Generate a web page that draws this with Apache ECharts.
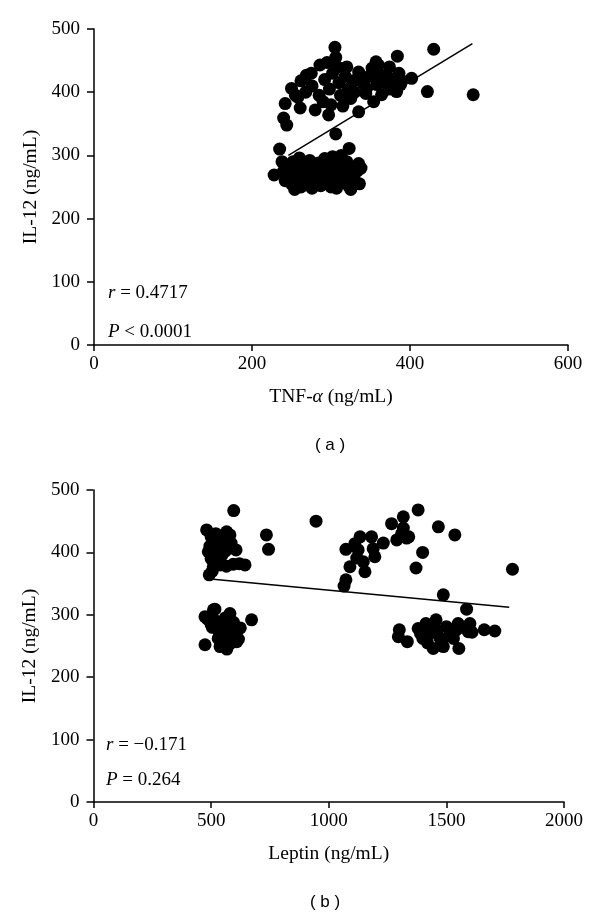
<!DOCTYPE html>
<html>
<head>
<meta charset="utf-8">
<script src="https://cdn.jsdelivr.net/npm/echarts@6/dist/echarts.min.js"></script>
<style>
html,body{margin:0;padding:0;background:#fff;}
#c{width:600px;height:917px;}
</style>
</head>
<body>
<div id="c"></div>
<script>
// ---- Data: panel (a) TNF-α vs IL-12 ----
var aUpper = [[305,471],[430,468],[384,457],[480,396],[422,401],[402,422],[286,443],[357,448],[269,427],[250,406],[242,382],[240,359],[244,348],[306,334],[297,364],[335,369],[335,432],[374,440],[383,401],[354,385],[280,372],[261,375],
  [262,418],[275,430],[258,392],[268,400],[276,410],[285,395],[290,385],[292,420],[298,405],[302,430],[306,455],[308,440],[310,415],[312,395],[315,378],[318,425],[322,405],[325,390],[328,418],[330,400],[340,415],[344,398],[348,425],[352,438],[358,412],[362,428],[364,396],[368,415],[370,425],[376,405],[378,420],[386,430],[388,412],[390,418],[360,443],[345,406],[320,440],[295,447],[300,380],[255,395]];
var aLower = [[323,311],[235,310],[228,269],[335,287],[325,246],[254,246],[307,248],
  [238,290],[240,275],[242,260],[245,282],[248,268],[250,255],[252,290],[256,275],[258,262],[262,250],[264,285],[268,270],[270,258],[273,292],[276,248],[278,278],[281,265],[284,288],[287,252],[290,275],[292,295],[295,262],[298,282],[300,250],[302,298],[305,270],[308,285],[310,258],[313,300],[316,275],[318,262],[320,290],[322,252],[326,270],[328,280],[330,260],[333,275],[336,255],[338,280],[290,262],[270,280],[260,296],[285,275],[300,265],[315,285]];
var aFitLine = [[246,300],[479,477]];

// ---- Data: panel (b) Leptin vs IL-12 ----
var bUpperLeft = [[596,467],[481,436],[566,433],[488,401],[606,404],[644,380],[594,381],[492,364],[516,415],[530,390],[509,377],[735,428],[744,405],[946,450],
  [500,425],[520,430],[540,420],[555,410],[580,428],[495,410],[510,400],[525,405],[545,395],[560,402],[500,390],[520,385],[540,380],[565,378],[620,382],[505,370],[585,415],[550,425]];
var bLowerLeft = [[516,309],[672,292],[474,297],[474,252],[580,302],[609,257],[538,249],[567,245],[510,308],[485,293],[624,279],[616,261],
  [500,285],[520,290],[530,275],[545,285],[555,270],[560,295],[570,280],[575,265],[590,275],[595,288],[600,262],[585,255],[550,258],[530,262],[505,280],[565,285]];
var bMiddle = [[1317,457],[1380,468],[1267,446],[1317,439],[1289,420],[1331,423],[1232,415],[1133,425],[1182,425],[1073,405],[1125,404],[1196,393],[1090,377],[1147,385],[1154,369],[1073,356],[1065,346],[1399,400],[1371,375],[1189,406],[1111,414],[1119,391],[1466,441],[1536,428],[1781,373],[1310,430],[1340,425]];
var bLowerRight = [[1487,332],[1586,309],[1300,276],[1296,265],[1334,257],[1380,278],[1413,286],[1456,292],[1444,246],[1487,249],[1553,246],[1550,286],[1600,286],[1593,273],[1661,276],[1706,274],[1429,270],[1472,263],[1515,270],[1400,262],[1500,281],[1444,281],[1609,272],[1570,280],[1530,262],[1420,255],[1460,275],[1480,258],[1390,270],[1540,275]];
var bFitLine = [[509,357],[1767,312]];

var yTicks = [0,100,200,300,400,500];
var aXTicks = [0,200,400,600];
var bXTicks = [0,500,1000,1500,2000];

var SERIF = '"Liberation Serif","DejaVu Serif",serif';
var SANS = '"Liberation Sans",Arial,sans-serif';
var FS = 19;
var NFS = 19.5;

function plain(v){ return String(v); }

function xAxisCfg(grid, ticks, nameRich) {
  return {
    type:'value', gridIndex:grid, min:ticks[0], max:ticks[ticks.length-1], interval:ticks[1]-ticks[0],
    name: nameRich, nameLocation:'middle', nameGap:42,
    nameTextStyle:{fontFamily:SERIF, fontSize:NFS, color:'#000',
      rich:{n:{fontFamily:SERIF,fontSize:NFS,color:'#000'}, i:{fontFamily:SERIF,fontSize:NFS,color:'#000',fontStyle:'italic'}}},
    axisLine:{show:true, onZero:false, lineStyle:{color:'#000', width:1.5}},
    axisTick:{show:true, inside:false, length:6, lineStyle:{color:'#000', width:1.5}},
    axisLabel:{fontFamily:SERIF, fontSize:FS, color:'#000', margin:10, formatter:plain},
    splitLine:{show:false}
  };
}
function yAxisCfg(grid) {
  return {
    type:'value', gridIndex:grid, min:yTicks[0], max:yTicks[yTicks.length-1], interval:yTicks[1]-yTicks[0],
    name:'IL-12 (ng/mL)', nameLocation:'middle', nameGap:52, nameRotate:90,
    nameTextStyle:{fontFamily:SERIF, fontSize:NFS, color:'#000'},
    axisLine:{show:true, onZero:false, lineStyle:{color:'#000', width:1.5}},
    axisTick:{show:true, inside:false, length:7, lineStyle:{color:'#000', width:1.5}},
    axisLabel:{fontFamily:SERIF, fontSize:FS, color:'#000', margin:14, formatter:plain},
    splitLine:{show:false}
  };
}
function scatter(data, xi, yi) {
  return {type:'scatter', xAxisIndex:xi, yAxisIndex:yi, data:data, symbol:'circle', symbolSize:13,
    itemStyle:{color:'#000', opacity:1}, silent:true, z:3};
}
function fit(data, xi, yi) {
  return {type:'line', xAxisIndex:xi, yAxisIndex:yi, data:data, symbol:'none',
    lineStyle:{color:'#000', width:1.5}, silent:true, z:4};
}
function txt(x, y, text, font, align, rich) {
  return {type:'text', x:x, y:y, silent:true, style:{text:text, fontFamily:font, fontSize:FS, fill:'#000',
    align:align, verticalAlign:'middle', rich:rich||{}}};
}
var it = {i:{fontFamily:SERIF, fontSize:FS, fontStyle:'italic', color:'#000'}, n:{fontFamily:SERIF, fontSize:FS, color:'#000'}};

var chart = echarts.init(document.getElementById('c'), null, {renderer:'canvas'});
chart.setOption({
  animation:false,
  backgroundColor:'#fff',
  grid:[
    {left:94, top:29, width:474, height:316},
    {left:93.5, top:490, width:470.5, height:312}
  ],
  xAxis:[
    xAxisCfg(0, aXTicks, '{n|TNF-}{i|α}{n| (ng/mL)}'),
    xAxisCfg(1, bXTicks, 'Leptin (ng/mL)')
  ],
  yAxis:[ yAxisCfg(0), yAxisCfg(1) ],
  series:[
    scatter(aUpper,0,0), scatter(aLower,0,0), fit(aFitLine,0,0),
    scatter(bUpperLeft,1,1), scatter(bLowerLeft,1,1), scatter(bMiddle,1,1), scatter(bLowerRight,1,1), fit(bFitLine,1,1)
  ],
  graphic:[
    txt(108, 293, '{i|r}{n| = 0.4717}', SERIF, 'left', it),
    txt(108, 332, '{i|P}{n| < 0.0001}', SERIF, 'left', it),
    txt(106, 745, '{i|r}{n| = −0.171}', SERIF, 'left', it),
    txt(106, 780, '{i|P}{n| = 0.264}', SERIF, 'left', it),
    {type:'text', x:330, y:445, silent:true, style:{text:'( a )', fontFamily:SANS, fontSize:17, fill:'#000', align:'center', verticalAlign:'middle'}},
    {type:'text', x:325, y:902, silent:true, style:{text:'( b )', fontFamily:SANS, fontSize:17, fill:'#000', align:'center', verticalAlign:'middle'}}
  ]
});
</script>
</body>
</html>
